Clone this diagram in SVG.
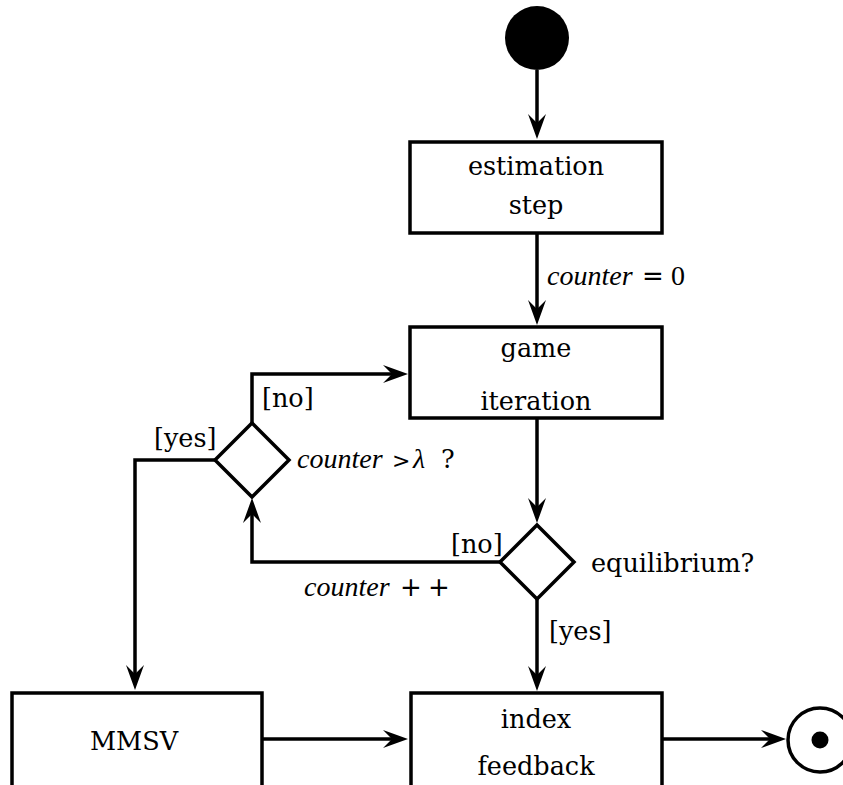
<svg xmlns="http://www.w3.org/2000/svg" width="843" height="785" viewBox="0 0 843 785">
<style>
.box{fill:#fff;stroke:#000;stroke-width:3.5}
.dia{fill:#fff;stroke:#000;stroke-width:3.5;stroke-linejoin:miter}
.edge{fill:none;stroke:#000;stroke-width:3.5;marker-end:url(#ah)}
.t{font-family:"DejaVu Serif",serif;font-size:25.5px;fill:#000}
.m{font-family:"Liberation Serif",serif;font-size:28px;fill:#000}
.i{font-style:italic}
.op{font-family:"DejaVu Sans",sans-serif;font-size:26px}
.gt{font-family:"DejaVu Sans",sans-serif;font-size:22px}
</style>
<defs>
<marker id="ah" markerUnits="userSpaceOnUse" viewBox="0 0 25 20" markerWidth="25" markerHeight="20" refX="9" refY="10" orient="auto">
<path d="M25,10 L0,1 L9,10 L0,19 Z" fill="#000"/>
</marker>
</defs>
<rect width="843" height="785" fill="#fff"/>
<g id="connectors">
<path class="edge" d="M537,70 V123"/>
<path class="edge" d="M537,233 V309"/>
<path class="edge" d="M537,418 V507"/>
<path class="edge" d="M500,562 H252 V514"/>
<path class="edge" d="M252,424 V374 H392"/>
<path class="edge" d="M215,460 H135 V674"/>
<path class="edge" d="M537,599 V675"/>
<path class="edge" d="M262,739 H392"/>
<path class="edge" d="M662,739 H770"/>
<text class="m" x="547" y="285"><tspan class="i">counter</tspan><tspan class="op" x="642">=</tspan><tspan x="671">0</tspan></text>
<text class="t" x="262" y="407">[no]</text>
<text class="t" x="154" y="447">[yes]</text>
<text class="t" x="451" y="553">[no]</text>
<text class="t" x="549" y="640">[yes]</text>
<text class="m" x="304" y="596"><tspan class="i">counter</tspan><tspan class="op" x="400">+</tspan><tspan class="op" x="428">+</tspan></text>
</g>
<g id="start"><circle cx="537" cy="38" r="32" fill="#000"/></g>
<g id="estimation">
<rect class="box" x="410" y="142" width="252" height="91"/>
<text class="t" x="536" y="175" text-anchor="middle">estimation</text>
<text class="t" x="536" y="214" text-anchor="middle">step</text>
</g>
<g id="game">
<rect class="box" x="410" y="327" width="252" height="91"/>
<text class="t" x="536" y="357" text-anchor="middle">game</text>
<text class="t" x="536" y="410" text-anchor="middle">iteration</text>
</g>
<g id="equilibrium">
<path class="dia" d="M537,525 L574,562 L537,599 L500,562 Z"/>
<text class="t" x="591" y="572">equilibrium?</text>
</g>
<g id="counter-check">
<path class="dia" d="M252,423 L289,460 L252,497 L215,460 Z"/>
<text class="m" x="297" y="468"><tspan class="i">counter</tspan><tspan class="gt" x="392">&gt;</tspan><tspan class="i" x="413">λ</tspan></text>
<text class="t" x="441" y="468">?</text>
</g>
<g id="mmsv">
<rect class="box" x="12" y="693" width="250" height="94"/>
<text class="t" x="134" y="750" text-anchor="middle">MMSV</text>
</g>
<g id="index">
<rect class="box" x="411" y="693" width="251" height="94"/>
<text class="t" x="536" y="728" text-anchor="middle">index</text>
<text class="t" x="536" y="775" text-anchor="middle">feedback</text>
</g>
<g id="end">
<circle cx="820" cy="740" r="32" fill="#fff" stroke="#000" stroke-width="3.5"/>
<circle cx="820" cy="740" r="8.5" fill="#000"/>
</g>
</svg>
